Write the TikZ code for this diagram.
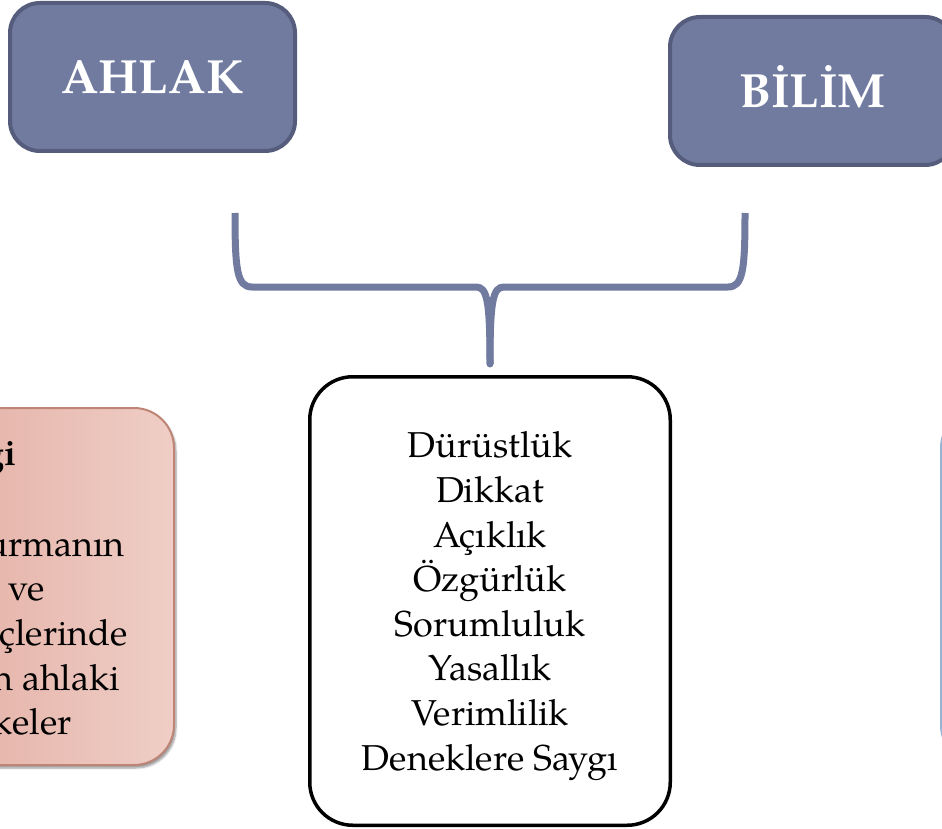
\documentclass[tikz,border=0pt]{standalone}
\usepackage{fontspec}
\setmainfont{TeX Gyre Pagella}
\usetikzlibrary{shadows.blur}
\definecolor{mor}{RGB}{113,123,160}
\definecolor{morkoyu}{RGB}{86,93,124}
\definecolor{pembeA}{RGB}{222,158,146}
\definecolor{pembeB}{RGB}{239,206,198}
\definecolor{pembecizgi}{RGB}{190,132,117}
\definecolor{maviA}{RGB}{214,227,242}
\definecolor{mavicizgi}{RGB}{150,180,216}

\tikzset{
  baslik/.style={draw=morkoyu, fill=mor, line width=4pt, rounded corners=30pt,
    minimum width=285pt, minimum height=148pt, inner sep=0pt, text=white,
    font=\fontsize{48}{58}\selectfont\bfseries, text height=34pt, text depth=0pt},
  yankutu/.style={rounded corners=40pt, line width=2pt, minimum height=357pt,
    blur shadow={shadow xshift=2pt, shadow yshift=-3pt, shadow blur steps=6}},
  metin/.style={font=\fontsize{36}{44.6}\selectfont}
}

\begin{document}
\begin{tikzpicture}[x=1pt, y=-1pt]
\useasboundingbox (0,0) rectangle (942,829);
\clip (0,0) rectangle (942,829);

% Ust kutular
\node[baslik] (ahlak) at (152.5,77) {AHLAK};
\node[baslik] (bilim) at (812.5,91) {BİLİM};

% Sol kutu (kesik)
\node[yankutu, draw=pembecizgi, left color=pembeA, right color=pembeB,
  minimum width=374pt] (tanim) at (-13,586.5) {};
\foreach \x/\y/\txt [count=\i] in {17/465/{\bfseries ği}, 125/556/urmanın,
    45/600/ve, 128/645/çlerinde, 120/690/{n ahlaki}, 72/734/keler} {
  \node[metin, anchor=base east, inner sep=0pt] (parca\i) at (\x,\y) {\txt};
}

% Sag kutu (kesik)
\node[yankutu, draw=mavicizgi, fill=maviA, minimum width=360pt] (sag) at (1121,586.5) {};

% Orta kutu
\node[draw, line width=3.5pt, rounded corners=43pt, minimum width=360.5pt,
  minimum height=448.5pt] (ilkeler) at (490,601) {};
\node[metin, align=center] (liste) at (490,606)
  {Dürüstlük\\Dikkat\\Açıklık\\Özgürlük\\Sorumluluk\\Yasallık\\Verimlilik\\Deneklere Saygı};

% Kume parantezi
\coordinate (solUc) at (235,213);
\coordinate (sagUc) at (745,213);
\coordinate (sivri) at (490,364);
\draw[mor, line width=7pt] (solUc) .. controls (235,270) and (237,287) .. (252,287)
  -- (476,287) .. controls (487,287) and (490,300) .. (sivri);
\draw[mor, line width=7pt] (sagUc) .. controls (745,270) and (743,287) .. (728,287)
  -- (504,287) .. controls (493,287) and (490,300) .. (sivri);
\fill[mor] (sivri) circle (3.5pt);

\end{tikzpicture}
\end{document}
